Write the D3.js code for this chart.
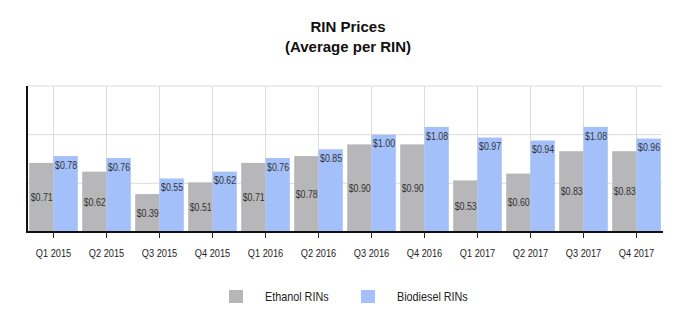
<!DOCTYPE html>
<html><head><meta charset="utf-8">
<script src="https://cdn.jsdelivr.net/npm/d3@7"></script>
<style>body{margin:0;background:#fff}svg{display:block}</style>
</head><body>
<svg id="c" width="696" height="333"></svg>
<script>
const categories = ["Q1 2015","Q2 2015","Q3 2015","Q4 2015","Q1 2016","Q2 2016","Q3 2016","Q4 2016","Q1 2017","Q2 2017","Q3 2017","Q4 2017"];
const ethanol = [0.71,0.62,0.39,0.51,0.71,0.78,0.90,0.90,0.53,0.60,0.83,0.83];
const biodiesel = [0.78,0.76,0.55,0.62,0.76,0.85,1.00,1.08,0.97,0.94,1.08,0.96];
const seriesNames = ["Ethanol RINs","Biodiesel RINs"];
const yTicks = [0,0.5,1.0,1.5];
const titleLines = ["RIN Prices","(Average per RIN)"];

const colors = ["#b7b7b9","#a3c0fa"];
const font = "'Liberation Sans',Arial,sans-serif";
const svg = d3.select("#c");
const L=27,R=663,T=86,B=232;
const x = d3.scaleBand().domain(categories).range([L,R]).padding(0);
const y = d3.scaleLinear().domain([0,1.5]).range([B,T]);
const barW = 24.3;

// title
svg.append("g").selectAll("text").data(titleLines).join("text")
  .attr("x",348).attr("y",(d,i)=>32+i*20).attr("text-anchor","middle")
  .attr("font-family",font).attr("font-weight","bold")
  .attr("font-size",15).attr("fill","#111").text(d=>d);

// grid
svg.append("g").selectAll("line.h").data(yTicks.slice(1)).join("line")
  .attr("x1",L).attr("x2",R-1).attr("y1",d=>y(d)).attr("y2",d=>y(d))
  .attr("stroke","#dcdcdc").attr("stroke-width",1);
svg.append("g").selectAll("line.v").data(categories).join("line")
  .attr("x1",d=>x(d)+x.bandwidth()/2).attr("x2",d=>x(d)+x.bandwidth()/2)
  .attr("y1",T).attr("y2",B).attr("stroke","#dcdcdc").attr("stroke-width",1);

// bars
const rows = [];
categories.forEach((c,i)=>{
  const cx = x(c)+x.bandwidth()/2;
  [ethanol[i],biodiesel[i]].forEach((v,j)=>{
    rows.push({v, j, bx: j===0 ? cx-barW : cx});
  });
});
svg.append("g").selectAll("rect").data(rows).join("rect")
  .attr("x",d=>d.bx).attr("y",d=>y(d.v)).attr("width",barW).attr("height",d=>B-y(d.v))
  .attr("fill",d=>colors[d.j]);
svg.append("g").selectAll("text").data(rows).join("text")
  .attr("transform",d=>`translate(${d.bx+1.5},${d.j===0 ? (y(d.v)+B)/2 : y(d.v)+9}) scale(0.84,1)`)
  .attr("dy","0.35em")
  .attr("font-family",font).attr("font-size",10.5).attr("fill","#333")
  .text(d=>"$"+d3.format(".2f")(d.v));

// axes
const xa = svg.append("g").attr("transform",`translate(0,${B})`)
  .call(d3.axisBottom(x).tickSize(6).tickPadding(11));
xa.select(".domain").attr("stroke","#111").attr("stroke-width",2).attr("d",`M${L},0H${R}`);
xa.selectAll(".tick line").attr("stroke","#222");
xa.selectAll(".tick text").attr("font-family",font).attr("font-size",11).attr("fill","#222")
  .attr("transform","scale(0.84,1)").attr("x",function(){return 0;});
svg.append("line").attr("x1",L).attr("x2",L).attr("y1",T).attr("y2",B+1)
  .attr("stroke","#111").attr("stroke-width",2);

// legend
const lg = svg.append("g");
const lx = [229,361];
seriesNames.forEach((n,i)=>{
  lg.append("rect").attr("x",lx[i]).attr("y",290).attr("width",14).attr("height",13).attr("fill",colors[i]);
  lg.append("text").attr("transform",`translate(${lx[i]+36},297) scale(0.9,1)`).attr("dy","0.35em")
    .attr("font-family",font).attr("font-size",12).attr("fill","#222").text(n);
});
</script>
</body></html>
